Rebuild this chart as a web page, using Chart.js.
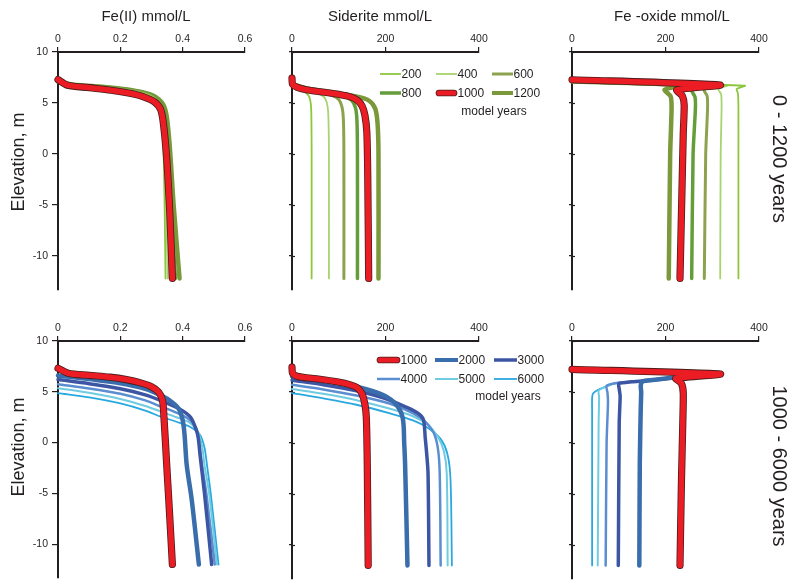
<!DOCTYPE html>
<html><head><meta charset="utf-8">
<script src="https://cdn.jsdelivr.net/npm/chart.js@4.4.1/dist/chart.umd.min.js"></script>
<style>
html,body{margin:0;padding:0;background:#fff;}
#wrap{position:relative;width:800px;height:588px;overflow:hidden;font-family:"Liberation Sans",Arial,sans-serif;color:#231f20;}
canvas{position:absolute;left:0;top:0;}
.lab{position:absolute;white-space:nowrap;transform:translate(-50%,-50%);line-height:1;}
.title{font-size:15px;}
.ytitle{font-size:18px;transform:translate(-50%,-50%) rotate(-90deg);}
.row{font-size:20px;transform:translate(-50%,-50%) rotate(90deg);}
</style></head><body>
<div id="wrap">
<canvas id="pA" width="800" height="588"></canvas>
<canvas id="pB" width="800" height="588"></canvas>
<canvas id="pC" width="800" height="588"></canvas>
<canvas id="pD" width="800" height="588"></canvas>
<canvas id="pE" width="800" height="588"></canvas>
<canvas id="pF" width="800" height="588"></canvas>
<div class="lab title" style="left:146px;top:15px">Fe(II) mmol/L</div>
<div class="lab title" style="left:380px;top:15px">Siderite mmol/L</div>
<div class="lab title" style="left:672px;top:15px">Fe -oxide mmol/L</div>
<div class="lab ytitle" style="left:18px;top:162px">Elevation, m</div>
<div class="lab ytitle" style="left:18px;top:447px">Elevation, m</div>
<div class="lab row" style="left:780px;top:159px">0 - 1200 years</div>
<div class="lab row" style="left:780px;top:466px">1000 - 6000 years</div>
</div>
<script>
// ---------- tick values / labels ----------
const Y_TICKS = [10, 5, 0, -5, -10];
const Y_MAX = 10;
const Y_MIN = -13.3;
const FE2_TICKS = [0, 0.2, 0.4, 0.6];
const FE2_TICK_LABELS = ['0', '0.2', '0.4', '0.6'];
const MIN_TICKS = [0, 200, 400];
const MIN_TICK_LABELS = ['0', '200', '400'];
const TOP_YEARS = ['200', '400', '600', '800', '1000', '1200'];
const BOTTOM_YEARS = ['1000', '2000', '3000', '4000', '5000', '6000'];

// ---------- data: [concentration, elevation m] ----------
// Fe(II) mmol/L, 0-1200 years
const FE2_A_200  = [[0,7.0],[0.05,6.72],[0.15,6.47],[0.23,6.2],[0.285,5.8],[0.318,5.1],[0.332,4.0],[0.338,1.0],[0.342,-5],[0.345,-12.2]];
const FE2_A_400  = [[0,7.0],[0.05,6.74],[0.15,6.5],[0.23,6.22],[0.288,5.8],[0.321,5.1],[0.335,4.0],[0.342,1.0],[0.347,-5],[0.352,-12.2]];
const FE2_A_600  = [[0,7.05],[0.05,6.76],[0.15,6.52],[0.23,6.25],[0.29,5.82],[0.324,5.1],[0.338,4.0],[0.346,1.0],[0.353,-5],[0.36,-12.2]];
const FE2_A_800  = [[0,7.05],[0.05,6.78],[0.15,6.55],[0.23,6.28],[0.293,5.85],[0.328,5.1],[0.342,4.0],[0.352,1.0],[0.362,-5],[0.377,-12.2]];
const FE2_A_1000 = [[0,7.3],[0.03,6.75],[0.1,6.5],[0.17,6.25],[0.23,5.95],[0.27,5.65],[0.31,5.1],[0.33,4.3],[0.34,2.5],[0.35,-1],[0.359,-6],[0.367,-12.2]];
const FE2_A_1200 = [[0,7.1],[0.05,6.8],[0.15,6.58],[0.23,6.3],[0.296,5.85],[0.332,5.1],[0.347,4.0],[0.358,1.0],[0.371,-5],[0.39,-12.2]];
// Siderite mmol/L, 0-1200 years
const SID_B_200  = [[0,6.85],[10,6.45],[22,6.2],[30,6.0],[37,5.6],[40.5,4.8],[41.5,3.5],[42,0],[42,-12.2]];
const SID_B_400  = [[0,6.85],[15,6.45],[40,6.12],[60,5.85],[71,5.45],[76,4.7],[78,3.4],[79,0],[79,-12.2]];
const SID_B_600  = [[0,6.85],[20,6.45],[55,6.08],[85,5.75],[100,5.35],[107,4.6],[110,3.3],[111,0],[111,-12.2]];
const SID_B_800  = [[0,6.85],[25,6.45],[70,6.03],[110,5.68],[128,5.25],[136,4.5],[139,3.2],[140,0],[140,-12.2]];
const SID_B_1000 = [[0,7.45],[1,6.85],[10,6.55],[30,6.3],[70,6.05],[100,5.85],[125,5.6],[140,5.25],[150,4.7],[156,3.8],[160,2.2],[162,-2],[164,-12.2]];
const SID_B_1200 = [[0,6.85],[30,6.45],[90,6.0],[140,5.62],[165,5.22],[178,4.45],[183,3.0],[185,0],[185,-12.2]];
// Fe-oxide mmol/L, 0-1200 years
const OX_C_200  = [[0,7.1],[370,6.7],[352,6.37],[355,5.95],[356,4.5],[356,0],[356,-12.2]];
const OX_C_400  = [[0,7.1],[332,6.72],[313,6.38],[319,5.85],[320,4.5],[318,0],[317,-12.2]];
const OX_C_600  = [[0,7.1],[300,6.72],[282,6.3],[289,5.7],[290,4.5],[286,0],[283,-12.2]];
const OX_C_800  = [[0,7.1],[275,6.72],[256,6.25],[263,5.6],[264,4.5],[259,0],[256,-12.2]];
const OX_C_1000 = [[0,7.28],[317,6.76],[224,6.28],[236,5.7],[240,4.8],[238,2],[235,-4],[231,-12.2]];
const OX_C_1200 = [[0,7.1],[232,6.75],[198,6.3],[211,5.65],[213,4.5],[210,0],[207,-12.2]];
// Fe(II) mmol/L, 1000-6000 years
const FE2_D_1000 = [[0,7.32],[0.033,6.83],[0.1,6.62],[0.167,6.44],[0.22,6.2],[0.263,5.9],[0.3,5.5],[0.322,5.0],[0.335,4.2],[0.34,2.5],[0.349,-2.3],[0.358,-7],[0.367,-12.0]];
const FE2_D_2000 = [[0,6.6],[0.1,6.25],[0.2,5.85],[0.28,5.3],[0.33,4.65],[0.365,4.0],[0.388,3.3],[0.4,2.2],[0.406,0.8],[0.413,-2.2],[0.429,-5.6],[0.452,-12.0]];
const FE2_D_3000 = [[0,6.2],[0.1,5.8],[0.2,5.3],[0.28,4.7],[0.34,4.0],[0.39,3.3],[0.425,2.5],[0.443,1.3],[0.45,0.46],[0.456,-1.3],[0.47,-5],[0.493,-12.0]];
const FE2_D_4000 = [[0,5.75],[0.1,5.33],[0.2,4.8],[0.28,4.15],[0.33,3.55],[0.38,2.95],[0.42,2.3],[0.445,1.3],[0.455,-0.5],[0.462,-2.2],[0.476,-5],[0.503,-12.0]];
const FE2_D_5000 = [[0,5.36],[0.1,4.9],[0.2,4.3],[0.28,3.6],[0.33,3.05],[0.38,2.5],[0.42,2.0],[0.45,1.0],[0.463,-0.5],[0.47,-2.2],[0.485,-5],[0.51,-12.0]];
const FE2_D_6000 = [[0,4.87],[0.1,4.45],[0.2,3.85],[0.28,3.15],[0.33,2.55],[0.38,2.05],[0.42,1.6],[0.455,0.8],[0.47,-0.5],[0.478,-2.2],[0.49,-5],[0.515,-12.0]];
// Siderite mmol/L, 1000-6000 years
const SID_E_1000 = [[0,7.45],[1,6.85],[10,6.55],[24,6.44],[60,6.25],[96,6.0],[125,5.7],[140,5.4],[150,4.8],[156,3.8],[159,2.5],[161,-2],[163,-12.0]];
const SID_E_2000 = [[0,6.55],[67,6.1],[138,5.52],[195,4.7],[224,3.7],[237,2.4],[240,0],[242,-2.2],[247,-12.0]];
const SID_E_3000 = [[0,6.15],[67,5.72],[138,5.12],[200,4.35],[245,3.5],[270,2.9],[281,2.3],[285,0.5],[288,-1],[291,-3],[293,-12.0]];
const SID_E_4000 = [[0,5.7],[67,5.25],[138,4.65],[210,3.85],[255,3.0],[285,2.1],[303,1.0],[312,-0.5],[316,-3],[318,-12.0]];
const SID_E_5000 = [[0,5.3],[67,4.82],[138,4.2],[210,3.35],[260,2.6],[290,1.8],[312,0.6],[325,-0.8],[331,-3],[333,-12.0]];
const SID_E_6000 = [[0,4.9],[67,4.38],[138,3.75],[210,2.9],[260,2.2],[290,1.5],[317,0.45],[332,-1.0],[339,-3.5],[342,-12.0]];
// Fe-oxide mmol/L, 1000-6000 years
const OX_F_1000 = [[0,7.22],[317,6.76],[222,6.34],[234,5.85],[238,4.9],[237,2],[234,-4],[231,-12.0]];
const OX_F_2000 = [[222,6.44],[178,6.2],[150,6.02],[147,5.6],[148,5.0],[147,3.3],[145,-2],[144,-12.0]];
const OX_F_3000 = [[222,6.44],[178,6.2],[128,6.0],[100,5.82],[101,5.3],[103,4.6],[101,2],[99,-12.0]];
const OX_F_4000 = [[222,6.44],[178,6.2],[128,6.0],[92,5.85],[74,5.6],[76,4.9],[77,4.0],[74,0],[72,-12.0]];
const OX_F_5000 = [[222,6.44],[178,6.2],[128,6.0],[92,5.85],[71,5.5],[57,5.15],[58,4.5],[57,2],[55,-12.0]];
const OX_F_6000 = [[222,6.44],[178,6.2],[128,6.0],[92,5.85],[71,5.5],[55,5.2],[45,4.85],[43,4.4],[43,3],[43,-12.0]];

// ---------- styles ----------
const TEXT = '#231f20';
const AXIS = '#231f20';
const FONT = '"Liberation Sans", Arial, sans-serif';
const YEAR_STYLE = {
  '200':  {color: '#8dc63f', width: 1.8},
  '400':  {color: '#a6d46e', width: 1.8},
  '600':  {color: '#8da24e', width: 3},
  '800':  {color: '#639e3b', width: 3.5},
  '1000': {color: '#ec1c24', width: 5.6, outline: '#4a1c1c', outlineWidth: 7.2},
  '1200': {color: '#7b983a', width: 4.5},
  '2000': {color: '#396dab', width: 4.5},
  '3000': {color: '#3d56a4', width: 3.5},
  '4000': {color: '#5b8ed0', width: 2.5},
  '5000': {color: '#6fcbe0', width: 2},
  '6000': {color: '#29a8e0', width: 1.8}
};

Chart.defaults.font.family = FONT;
Chart.defaults.color = TEXT;

function buildDatasets(years, arrays) {
  const ds = [];
  years.forEach((year, i) => {
    const st = YEAR_STYLE[year];
    const data = arrays[i].map(p => ({x: p[0], y: p[1]}));
    if (st.outline) {
      ds.push({label: year, data, borderColor: st.color, borderWidth: st.width, order: 0, clip: 6});
      ds.push({label: year + ' outline', data, borderColor: st.outline, borderWidth: st.outlineWidth, order: 1, clip: 6});
    } else {
      ds.push({label: year, data, borderColor: st.color, borderWidth: st.width, order: 2 + i, clip: 6});
    }
  });
  return ds;
}

function innerTicksPlugin(len) {
  return {
    id: 'innerTicks',
    beforeDatasetsDraw(chart) {
      if (!len) return;
      const y = chart.scales.y, ctx = chart.ctx, left = chart.chartArea.left;
      ctx.save();
      ctx.strokeStyle = AXIS; ctx.lineWidth = 1.2;
      Y_TICKS.forEach(v => {
        const py = Math.round(y.getPixelForValue(v)) + 0.5;
        ctx.beginPath(); ctx.moveTo(left, py); ctx.lineTo(left + len, py); ctx.stroke();
      });
      ctx.restore();
    }
  };
}

function legendPlugin(cfg) {
  return {
    id: 'yearLegend',
    afterDraw(chart) {
      const ctx = chart.ctx;
      ctx.save();
      ctx.font = '12px ' + FONT;
      ctx.textBaseline = 'middle';
      ctx.textAlign = 'left';
      ctx.fillStyle = TEXT;
      cfg.items.forEach((label, i) => {
        const c = i % 3, r = Math.floor(i / 3);
        const x0 = cfg.cols[c], y0 = cfg.rows[r], x1 = x0 + cfg.len;
        const st = YEAR_STYLE[label];
        if (st.outline) {
          ctx.lineCap = 'round';
          ctx.strokeStyle = st.outline; ctx.lineWidth = st.outlineWidth - 0.5;
          ctx.beginPath(); ctx.moveTo(x0 + 3, y0); ctx.lineTo(x1 - 3, y0); ctx.stroke();
          ctx.strokeStyle = st.color; ctx.lineWidth = st.width - 0.5;
          ctx.beginPath(); ctx.moveTo(x0 + 3, y0); ctx.lineTo(x1 - 3, y0); ctx.stroke();
        } else {
          ctx.lineCap = 'butt';
          ctx.strokeStyle = st.color; ctx.lineWidth = Math.min(st.width, 4);
          ctx.beginPath(); ctx.moveTo(x0, y0); ctx.lineTo(x1, y0); ctx.stroke();
        }
        ctx.fillText(label, x1 + 0.5, y0 + 0.5);
      });
      ctx.textAlign = 'center';
      ctx.fillText(cfg.note, cfg.noteX, cfg.noteY);
      ctx.restore();
    }
  };
}

function makePanel(id, box, years, arrays, xMax, xTicks, xLabels, showY, tension, legendCfg) {
  const yW = showY ? 45 : 20, xH = 40;
  const plugins = [innerTicksPlugin(showY ? 0 : 3)];
  if (legendCfg) plugins.push(legendPlugin(legendCfg));
  return new Chart(document.getElementById(id), {
    type: 'line',
    data: {datasets: buildDatasets(years, arrays)},
    plugins,
    options: {
      responsive: false, animation: false, devicePixelRatio: 1, events: [],
      layout: {padding: {left: box.L - yW, top: box.T - xH, right: 800 - box.R, bottom: 588 - box.B}},
      elements: {
        point: {radius: 0, hoverRadius: 0},
        line: {tension, borderCapStyle: 'round', borderJoinStyle: 'round', fill: false}
      },
      plugins: {legend: {display: false}, tooltip: {enabled: false}, title: {display: false}},
      scales: {
        x: {
          type: 'linear', position: 'top', min: 0, max: xMax,
          afterBuildTicks: a => { a.ticks = xTicks.map(v => ({value: v})); },
          afterFit: s => { s.height = xH; },
          ticks: {callback: (v, i) => xLabels[i], padding: 2, color: TEXT, font: {size: 10.5}, maxRotation: 0, autoSkip: false},
          grid: {display: true, drawOnChartArea: false, drawTicks: true, tickLength: 5, color: AXIS, lineWidth: 1.2},
          border: {display: true, color: AXIS, width: 2}
        },
        y: {
          type: 'linear', position: 'left', min: Y_MIN, max: Y_MAX,
          afterBuildTicks: a => { a.ticks = Y_TICKS.map(v => ({value: v})); },
          afterFit: s => { s.width = yW; },
          ticks: {display: showY, callback: v => String(v), padding: 4, color: TEXT, font: {size: 10.5}, autoSkip: false},
          grid: {display: true, drawOnChartArea: false, drawTicks: true, tickLength: showY ? 6 : 3, color: AXIS, lineWidth: 1.2},
          border: {display: true, color: AXIS, width: 2}
        }
      }
    }
  });
}

const TOP_ROW = {T: 52, B: 52 + (Y_MAX - Y_MIN) * 10.2};
const BOT_ROW = {T: 341, B: 341 + (Y_MAX - Y_MIN) * 10.2};
const COLS = [{L: 58, R: 245}, {L: 292, R: 479}, {L: 572, R: 759}];
const box = (row, col) => ({L: COLS[col].L, R: COLS[col].R, T: row.T, B: row.B});

makePanel('pA', box(TOP_ROW, 0), TOP_YEARS, [FE2_A_200, FE2_A_400, FE2_A_600, FE2_A_800, FE2_A_1000, FE2_A_1200], 0.6, FE2_TICKS, FE2_TICK_LABELS, true, 0.3);
makePanel('pB', box(TOP_ROW, 1), TOP_YEARS, [SID_B_200, SID_B_400, SID_B_600, SID_B_800, SID_B_1000, SID_B_1200], 400, MIN_TICKS, MIN_TICK_LABELS, false, 0.3,
  {items: TOP_YEARS, cols: [380, 436, 492], rows: [74, 93], len: 21, note: 'model years', noteX: 494, noteY: 112});
makePanel('pC', box(TOP_ROW, 2), TOP_YEARS, [OX_C_200, OX_C_400, OX_C_600, OX_C_800, OX_C_1000, OX_C_1200], 400, MIN_TICKS, MIN_TICK_LABELS, false, 0.2);
makePanel('pD', box(BOT_ROW, 0), BOTTOM_YEARS, [FE2_D_1000, FE2_D_2000, FE2_D_3000, FE2_D_4000, FE2_D_5000, FE2_D_6000], 0.6, FE2_TICKS, FE2_TICK_LABELS, true, 0.3);
makePanel('pE', box(BOT_ROW, 1), BOTTOM_YEARS, [SID_E_1000, SID_E_2000, SID_E_3000, SID_E_4000, SID_E_5000, SID_E_6000], 400, MIN_TICKS, MIN_TICK_LABELS, false, 0.3,
  {items: BOTTOM_YEARS, cols: [377, 435, 494], rows: [360, 379], len: 23, note: 'model years', noteX: 508, noteY: 397});
makePanel('pF', box(BOT_ROW, 2), BOTTOM_YEARS, [OX_F_1000, OX_F_2000, OX_F_3000, OX_F_4000, OX_F_5000, OX_F_6000], 400, MIN_TICKS, MIN_TICK_LABELS, false, 0.2);
</script>
</body></html>
